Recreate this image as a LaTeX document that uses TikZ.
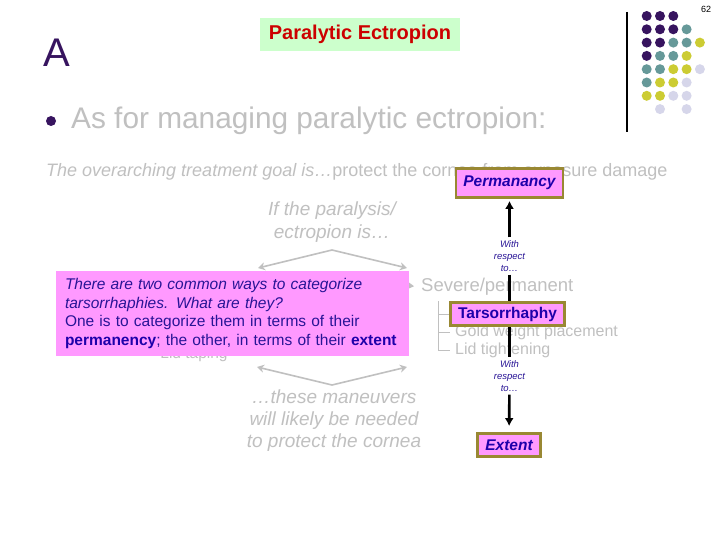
\documentclass[tikz,border=0pt]{standalone}
\usepackage{fontspec}
\setmainfont{Liberation Sans}
\usetikzlibrary{arrows.meta,positioning}
\definecolor{slidegray}{RGB}{192,192,192}
\definecolor{deeppurple}{RGB}{55,20,95}
\definecolor{dotteal}{RGB}{102,153,153}
\definecolor{dotyellow}{RGB}{204,204,51}
\definecolor{dotlilac}{RGB}{214,214,234}
\definecolor{quizpink}{RGB}{255,153,255}
\definecolor{olivebrd}{RGB}{153,136,51}
\definecolor{inkblue}{RGB}{40,20,150}
\definecolor{keyblue}{RGB}{30,0,170}
\definecolor{titlered}{RGB}{204,0,0}
\definecolor{titlegreen}{RGB}{204,255,204}
\newcommand{\fsz}[2]{\fontsize{#1}{#2}\selectfont}

\begin{document}
\begin{tikzpicture}[x=1pt,y=-1pt,
  every node/.style={inner sep=0pt},
  graytxt/.style={text=slidegray},
  grayarrow/.style={draw=slidegray, line width=1.6pt, -{Stealth[length=7pt,width=8pt]}},
  treeline/.style={draw=slidegray, line width=0.9pt},
  keybox/.style={draw=olivebrd, line width=2.8pt, fill=quizpink, text=keyblue},
  wrt/.style={text=inkblue, font=\itshape\fsz{9.5}{12}, align=center, inner sep=3pt},
  blackarrow/.style={line width=2.6pt, -{Latex[length=8pt,width=9pt]}},
]
  \useasboundingbox (0,0) rectangle (720,540);
  \fill[white] (0,0) rectangle (720,540);

  \node[font=\fsz{9}{10}] (pagenum) at (706,9) {62};
  \node[text=deeppurple, font=\fsz{40}{44}, anchor=base west] (letter) at (43,67) {A};
  \node[fill=titlegreen, minimum width=200pt, minimum height=33pt, text=titlered,
        font=\bfseries\fsz{20}{22}] (title) at (360,34.5) {Paralytic Ectropion};
  \node[circle, fill=deeppurple, minimum size=10pt] (bullet) at (51,121) {};
  \node[graytxt, font=\fsz{29.8}{34}, anchor=base west] (lead) at (71,129) {As for managing paralytic ectropion:};

  \draw[line width=1.3pt] (627,12) -- (627,132);
  \foreach \c/\r/\clr in {0/0/deeppurple,1/0/deeppurple,2/0/deeppurple,
      0/1/deeppurple,1/1/deeppurple,2/1/deeppurple,3/1/dotteal,
      0/2/deeppurple,1/2/deeppurple,2/2/dotteal,3/2/dotteal,4/2/dotyellow,
      0/3/deeppurple,1/3/dotteal,2/3/dotteal,3/3/dotyellow,
      0/4/dotteal,1/4/dotteal,2/4/dotyellow,3/4/dotyellow,4/4/dotlilac,
      0/5/dotteal,1/5/dotyellow,2/5/dotyellow,3/5/dotlilac,
      0/6/dotyellow,1/6/dotyellow,2/6/dotlilac,3/6/dotlilac,
      1/7/dotlilac,3/7/dotlilac}
    \fill[\clr] (646.7+13.3*\c, 16+13.3*\r) circle (5pt);

  \node[graytxt, font=\fsz{18}{20}, anchor=base west] (goal) at (46,177)
    {\textit{The overarching treatment goal is…}protect the cornea from exposure damage};

  \node[graytxt, font=\itshape\fsz{19}{23}, align=center] (ifpar) at (332,222) {If the paralysis/\\ectropion is…};
  \coordinate (split) at (332,250);
  \coordinate (mildend) at (258,268);
  \coordinate (sevend) at (407,268);
  \draw[grayarrow] (split) -- (mildend);
  \draw[grayarrow] (split) -- (sevend);

  \node[graytxt, font=\fsz{18.5}{20}, anchor=west] (severe) at (421,287) {Severe/permanent};
  \coordinate (sevstub) at (403,285);
  \draw[grayarrow, shorten >=7pt] (sevstub) -- (severe.west);
  \node[graytxt, font=\fsz{16}{18}, anchor=west] (gold) at (455,332) {Gold weight placement};
  \node[graytxt, font=\fsz{16}{18}, anchor=west] (lidtight) at (455,350.5) {Lid tightening};
  \node[graytxt, font=\fsz{15.5}{18}, anchor=base] (lidtape) at (194,358.5) {Lid taping};

  \coordinate (join) at (332,385);
  \coordinate (mildlow) at (257,367);
  \coordinate (sevlow) at (407,367);
  \draw[grayarrow] (join) -- (mildlow);
  \draw[grayarrow] (join) -- (sevlow);
  \node[graytxt, font=\itshape\fsz{19}{22}, align=center] (needed) at (334,421)
    {…these maneuvers\\will likely be needed\\to protect the cornea};

  \node[wrt] (wrt1) at (509.5,256) {With\\respect\\to…};
  \node[wrt] (wrt2) at (509.5,376) {With\\respect\\to…};
  \draw[line width=2.6pt] (wrt1) -- (wrt2);

  \node[keybox, font=\bfseries\itshape\fsz{15.5}{18}, minimum width=107pt, minimum height=29pt] (perm) at (509.5,183) {Permanancy};
  \node[keybox, font=\bfseries\fsz{15.5}{18}, minimum width=114pt, minimum height=23pt] (tars) at (507.5,314) {Tarsorrhaphy};
  \node[keybox, font=\bfseries\itshape\fsz{15.5}{18}, minimum width=63pt, minimum height=23pt] (ext) at (509,445) {Extent};
  \draw[blackarrow, shorten >=2pt] (wrt1) -- (perm);
  \draw[blackarrow, shorten >=6pt] (wrt2) -- (ext);

  \coordinate (treetop) at (438,301);
  \draw[treeline] (treetop) |- ([xshift=-5pt]lidtight.west);
  \draw[treeline] (treetop |- gold.west) -- ([xshift=-5pt]gold.west);
  \draw[treeline] (treetop |- tars.west) -- (tars.west);

  \node[fill=quizpink, text=inkblue, font=\fsz{15.5}{18.7}, text width=335pt, align=left,
        minimum height=85pt, inner xsep=9pt] (quiz) at (232.5,313.5)
    {\textit{There are two common ways to categorize}\\
     \textit{tarsorrhaphies. What are they?}\\
     One is to categorize them in terms of their\\
     \textbf{\color{keyblue}permanency}; the other, in terms of their \textbf{\color{keyblue}extent}};
\end{tikzpicture}
\end{document}
